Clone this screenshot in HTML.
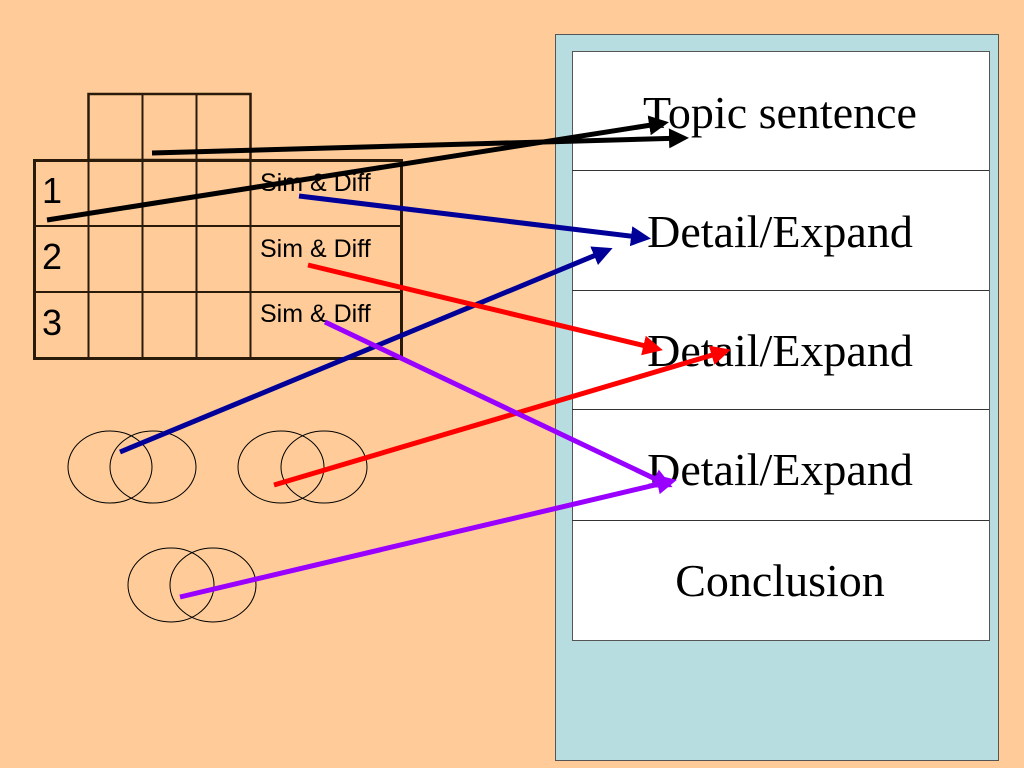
<!DOCTYPE html>
<html><head><style>
body{margin:0;width:1024px;height:768px;background:#FFCC99;overflow:hidden;position:relative}
svg{position:absolute;left:0;top:0}
</style></head><body>
<svg width="1024" height="768" xmlns="http://www.w3.org/2000/svg">
<defs>
<marker id="ak" markerWidth="4" markerHeight="4" refX="3" refY="2" orient="auto" markerUnits="strokeWidth"><path d="M0,0 L4,2 L0,4z" fill="#000"/></marker>
<marker id="ab" markerWidth="4" markerHeight="4" refX="3" refY="2" orient="auto" markerUnits="strokeWidth"><path d="M0,0 L4,2 L0,4z" fill="#000099"/></marker>
<marker id="ar" markerWidth="4" markerHeight="4" refX="3" refY="2" orient="auto" markerUnits="strokeWidth"><path d="M0,0 L4,2 L0,4z" fill="#FF0000"/></marker>
<marker id="ap" markerWidth="4" markerHeight="4" refX="3" refY="2" orient="auto" markerUnits="strokeWidth"><path d="M0,0 L4,2 L0,4z" fill="#9900FF"/></marker>
</defs>
<rect x="555.5" y="34.5" width="443" height="726" fill="#B8DDE0" stroke="#555" stroke-width="1"/>
<rect x="572.5" y="51.5" width="417" height="589" fill="#fff" stroke="#555" stroke-width="1"/>
<g stroke="#333" stroke-width="1">
<line x1="572" y1="170.5" x2="989" y2="170.5"/>
<line x1="572" y1="290.5" x2="989" y2="290.5"/>
<line x1="572" y1="409.5" x2="989" y2="409.5"/>
<line x1="572" y1="520.5" x2="989" y2="520.5"/>
</g>
<g font-family="Liberation Serif, serif" font-size="46" text-anchor="middle" fill="#000">
<text x="780" y="128">Topic sentence</text>
<text x="780" y="247">Detail/Expand</text>
<text x="780" y="366">Detail/Expand</text>
<text x="780" y="485">Detail/Expand</text>
<text x="780" y="596">Conclusion</text>
</g>
<g stroke="#2a1a0a" fill="none">
<rect x="34.5" y="160.5" width="367" height="198" stroke-width="3"/>
<rect x="88.5" y="94" width="162" height="66" stroke-width="2.5"/>
<line x1="88.5" y1="160" x2="88.5" y2="358" stroke-width="2"/>
<line x1="142.5" y1="94" x2="142.5" y2="358" stroke-width="2"/>
<line x1="196.5" y1="94" x2="196.5" y2="358" stroke-width="2"/>
<line x1="250.5" y1="160" x2="250.5" y2="358" stroke-width="2"/>
<line x1="34" y1="226" x2="401" y2="226" stroke-width="2"/>
<line x1="34" y1="292" x2="401" y2="292" stroke-width="2"/>
</g>
<g font-family="Liberation Sans, sans-serif" fill="#000">
<text x="42" y="203" font-size="36">1</text>
<text x="42" y="269" font-size="36">2</text>
<text x="42" y="335" font-size="36">3</text>
<text x="260" y="191" font-size="25">Sim &amp; Diff</text>
<text x="260" y="257" font-size="25">Sim &amp; Diff</text>
<text x="260" y="322" font-size="25">Sim &amp; Diff</text>
</g>
<g fill="none" stroke="#000" stroke-width="1">
<ellipse cx="110" cy="467" rx="42" ry="36"/>
<ellipse cx="153" cy="467" rx="43" ry="36"/>
<ellipse cx="281" cy="467" rx="43" ry="36"/>
<ellipse cx="324" cy="467" rx="43" ry="36"/>
<ellipse cx="171" cy="585" rx="43" ry="37"/>
<ellipse cx="213" cy="585" rx="43" ry="37"/>
</g>
<g stroke-width="5" fill="none" stroke-linecap="butt">
<line x1="47" y1="220" x2="664" y2="123" stroke="#000" marker-end="url(#ak)"/>
<line x1="152" y1="153" x2="684" y2="138" stroke="#000" marker-end="url(#ak)"/>
<line x1="299" y1="196" x2="646" y2="238" stroke="#000099" marker-end="url(#ab)"/>
<line x1="120" y1="452" x2="608" y2="250" stroke="#000099" marker-end="url(#ab)"/>
<line x1="308" y1="265" x2="658" y2="349" stroke="#FF0000" marker-end="url(#ar)"/>
<line x1="274" y1="485" x2="726" y2="351" stroke="#FF0000" marker-end="url(#ar)"/>
<line x1="325" y1="322" x2="668" y2="485" stroke="#9900FF" marker-end="url(#ap)"/>
<line x1="180" y1="597" x2="672" y2="481" stroke="#9900FF" marker-end="url(#ap)"/>
</g>
</svg>
</body></html>
